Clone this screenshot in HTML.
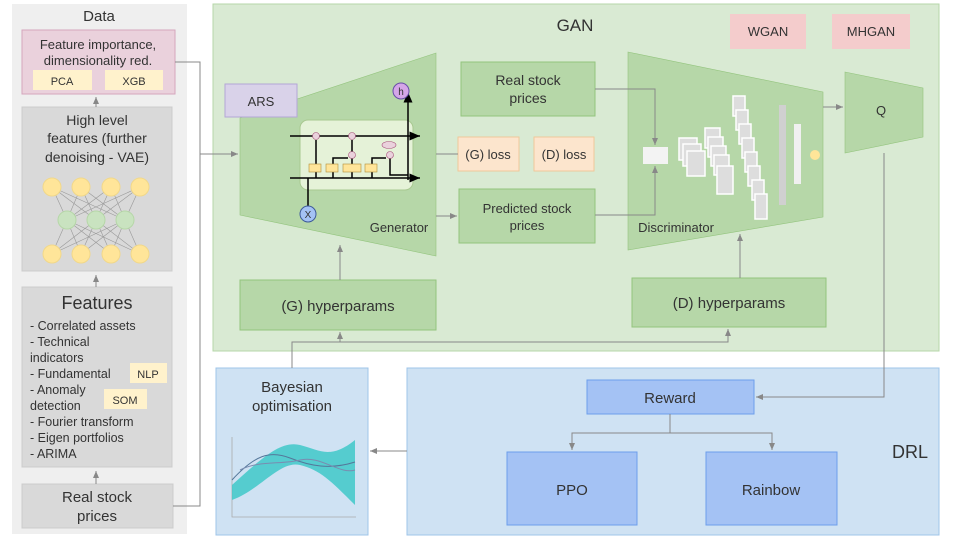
<!DOCTYPE html>
<html><head><meta charset="utf-8"><style>
body{margin:0;background:#fff}
svg{display:block}
text{font-family:"Liberation Sans",sans-serif;fill:#333}
</style></head><body>
<svg width="960" height="540" viewBox="0 0 960 540" xmlns="http://www.w3.org/2000/svg">
<defs><marker id="a" markerWidth="8" markerHeight="8" refX="7" refY="4" orient="auto"><path d="M0,1 L7,4 L0,7 z" fill="#888"/></marker>
<marker id="b" markerWidth="8" markerHeight="8" refX="7" refY="4" orient="auto"><path d="M0,1 L7,4 L0,7 z" fill="#000"/></marker></defs>
<!-- Data panel -->
<rect x="12" y="4" width="175" height="530" fill="#efefef"/>
<text x="99" y="21" font-size="15" text-anchor="middle" fill="#444">Data</text>
<rect x="22" y="30" width="153" height="64" fill="#ead1dc" stroke="#d5a6bd"/>
<text x="98" y="49" font-size="13" text-anchor="middle">Feature importance,</text>
<text x="98" y="65" font-size="13" text-anchor="middle">dimensionality red.</text>
<rect x="33" y="70" width="59" height="20" fill="#fff2cc"/><text x="62" y="85" font-size="11" text-anchor="middle">PCA</text>
<rect x="105" y="70" width="58" height="20" fill="#fff2cc"/><text x="134" y="85" font-size="11" text-anchor="middle">XGB</text>
<rect x="22" y="107" width="150" height="164" fill="#d9d9d9" stroke="#ccc"/>
<text x="97" y="125" font-size="14" text-anchor="middle">High level</text>
<text x="97" y="143" font-size="14" text-anchor="middle">features (further</text>
<text x="97" y="162" font-size="14" text-anchor="middle">denoising - VAE)</text>
<g stroke="#999" stroke-width="0.6">
<path d="M52,187L67,220M52,187L96,220M52,187L125,220M81,187L67,220M81,187L96,220M81,187L125,220M111,187L67,220M111,187L96,220M111,187L125,220M140,187L67,220M140,187L96,220M140,187L125,220"/>
<path d="M52,254L67,220M52,254L96,220M52,254L125,220M81,254L67,220M81,254L96,220M81,254L125,220M111,254L67,220M111,254L96,220M111,254L125,220M140,254L67,220M140,254L96,220M140,254L125,220"/>
</g>
<g fill="#ffe599" stroke="#f1d88a"><circle cx="52" cy="187" r="9"/><circle cx="81" cy="187" r="9"/><circle cx="111" cy="187" r="9"/><circle cx="140" cy="187" r="9"/><circle cx="52" cy="254" r="9"/><circle cx="81" cy="254" r="9"/><circle cx="111" cy="254" r="9"/><circle cx="140" cy="254" r="9"/></g>
<g fill="#c9e3c0" stroke="#b6d7a8"><circle cx="67" cy="220" r="9"/><circle cx="96" cy="220" r="9"/><circle cx="125" cy="220" r="9"/></g>
<rect x="22" y="287" width="150" height="180" fill="#d9d9d9" stroke="#ccc"/>
<text x="97" y="309" font-size="18" text-anchor="middle">Features</text>
<g font-size="12.5"><text x="30" y="330">- Correlated assets</text><text x="30" y="346">- Technical</text><text x="30" y="362">indicators</text><text x="30" y="378">- Fundamental</text><text x="30" y="394">- Anomaly</text><text x="30" y="410">detection</text><text x="30" y="426">- Fourier transform</text><text x="30" y="442">- Eigen portfolios</text><text x="30" y="458">- ARIMA</text></g>
<rect x="130" y="363" width="37" height="20" fill="#fff2cc"/><text x="148" y="378" font-size="11" text-anchor="middle">NLP</text>
<rect x="104" y="389" width="43" height="20" fill="#fff2cc"/><text x="125" y="404" font-size="11" text-anchor="middle">SOM</text>
<rect x="22" y="484" width="151" height="44" fill="#d9d9d9" stroke="#ccc"/>
<text x="97" y="502" font-size="15" text-anchor="middle">Real stock</text><text x="97" y="521" font-size="15" text-anchor="middle">prices</text>
<g stroke="#888" fill="none" marker-end="url(#a)"><path d="M96,484V471"/><path d="M96,287V275"/><path d="M96,107V97"/></g>
<!-- GAN -->
<rect x="213" y="4" width="726" height="347" fill="#d9ead3" stroke="#b6d7a8"/>
<text x="575" y="31" font-size="17" text-anchor="middle" fill="#444">GAN</text>
<rect x="730" y="14" width="76" height="35" fill="#f4cccc"/><text x="768" y="36" font-size="13" text-anchor="middle">WGAN</text>
<rect x="832" y="14" width="78" height="35" fill="#f4cccc"/><text x="871" y="36" font-size="13" text-anchor="middle">MHGAN</text>
<polygon points="240,118 436,53 436,256 240,215" fill="#b6d7a8" stroke="#93c47d" stroke-width="0.6"/>
<rect x="225" y="84" width="72" height="33" fill="#d9d2e9" stroke="#b4a7d6"/><text x="261" y="106" font-size="13" text-anchor="middle">ARS</text>
<rect x="300" y="120" width="113" height="70" rx="8" fill="#e5f2d8" stroke="#a8c890"/>
<g stroke="#000" stroke-width="1.5" fill="none">
<path d="M290,136H420" marker-end="url(#b)"/><path d="M290,178H420" marker-end="url(#b)"/>
<path d="M408,180V92" marker-end="url(#b)"/><path d="M390,152V175H408"/><path d="M308,178V215"/>
<path d="M316,178V140"/><path d="M333,178V158H348"/><path d="M352,178V140"/><path d="M372,178V158H386"/>
</g>
<g fill="#ffe599" stroke="#b08d3a" stroke-width="0.6" font-size="6"><rect x="309" y="164" width="12" height="8"/><rect x="326" y="164" width="12" height="8"/><rect x="343" y="164" width="18" height="8"/><rect x="365" y="164" width="12" height="8"/></g>
<g fill="#ead1dc" stroke="#a64d79" stroke-width="0.6"><circle cx="316" cy="136" r="3.5"/><circle cx="352" cy="136" r="3.5"/><circle cx="352" cy="155" r="3.5"/><circle cx="390" cy="155" r="3.5"/><ellipse cx="389" cy="145" rx="7" ry="3.5"/></g>
<circle cx="401" cy="91" r="8" fill="#d5a6e8" stroke="#674ea7"/><text x="401" y="95" font-size="10" text-anchor="middle">h</text>
<circle cx="308" cy="214" r="8" fill="#a4c2f4" stroke="#3d5a99"/><text x="308" y="218" font-size="10" text-anchor="middle">X</text>
<text x="399" y="232" font-size="13" text-anchor="middle" fill="#444">Generator</text>
<rect x="461" y="62" width="134" height="54" fill="#b6d7a8" stroke="#93c47d"/>
<text x="528" y="85" font-size="14" text-anchor="middle">Real stock</text><text x="528" y="103" font-size="14" text-anchor="middle">prices</text>
<rect x="458" y="137" width="61" height="34" fill="#fce5cd" stroke="#f0c89a"/><text x="488" y="159" font-size="13" text-anchor="middle">(G) loss</text>
<rect x="534" y="137" width="60" height="34" fill="#fce5cd" stroke="#f0c89a"/><text x="564" y="159" font-size="13" text-anchor="middle">(D) loss</text>
<rect x="459" y="189" width="136" height="54" fill="#b6d7a8" stroke="#93c47d"/>
<text x="527" y="213" font-size="13" text-anchor="middle">Predicted stock</text><text x="527" y="230" font-size="13" text-anchor="middle">prices</text>
<polygon points="628,52 823,92 823,217 628,250" fill="#b6d7a8" stroke="#93c47d" stroke-width="0.6"/>
<rect x="643" y="147" width="25" height="17" fill="#f3f3f3"/>
<g fill="#ddd" stroke="#fff" stroke-width="1.5">
<rect x="679" y="138" width="18" height="22"/><rect x="683" y="144" width="18" height="22"/><rect x="687" y="151" width="18" height="25"/>
<rect x="705" y="128" width="15" height="20"/><rect x="708" y="137" width="15" height="20"/><rect x="711" y="146" width="15" height="20"/><rect x="714" y="155" width="15" height="20"/><rect x="717" y="166" width="16" height="28"/>
<rect x="733" y="96" width="12" height="20"/><rect x="736" y="110" width="12" height="20"/><rect x="739" y="124" width="12" height="20"/><rect x="742" y="138" width="12" height="20"/><rect x="745" y="152" width="12" height="20"/><rect x="748" y="166" width="12" height="20"/><rect x="752" y="180" width="12" height="20"/><rect x="755" y="194" width="12" height="25"/>
</g>
<rect x="779" y="105" width="7" height="100" fill="#d0d0d0"/><rect x="794" y="124" width="7" height="60" fill="#f0f0f0"/>
<circle cx="815" cy="155" r="5" fill="#ffe599"/>
<text x="676" y="232" font-size="13" text-anchor="middle" fill="#444">Discriminator</text>
<polygon points="845,72 923,88 923,137 845,153" fill="#b6d7a8" stroke="#93c47d" stroke-width="0.6"/>
<text x="881" y="115" font-size="13" text-anchor="middle">Q</text>
<rect x="240" y="280" width="196" height="50" fill="#b6d7a8" stroke="#93c47d"/><text x="338" y="311" font-size="15" text-anchor="middle">(G) hyperparams</text>
<rect x="632" y="278" width="194" height="49" fill="#b6d7a8" stroke="#93c47d"/><text x="729" y="308" font-size="15" text-anchor="middle">(D) hyperparams</text>
<!-- Bayesian -->
<rect x="216" y="368" width="152" height="167" fill="#cfe2f3" stroke="#9fc5e8"/>
<text x="292" y="392" font-size="15" text-anchor="middle">Bayesian</text><text x="292" y="411" font-size="15" text-anchor="middle">optimisation</text>
<g stroke="#aaa" fill="none" stroke-width="0.8"><path d="M232,437V517H356"/></g>
<path d="M232,485 C260,460 280,440 300,445 C320,450 330,460 355,440 L355,505 C330,480 320,470 300,465 C280,460 260,490 232,500 Z" fill="#3fc8c8" opacity="0.85"/>
<path d="M232,480 C255,455 270,450 290,458 C310,466 330,470 355,462" stroke="#55779a" fill="none"/>
<path d="M240,470 C260,460 280,465 300,460 C320,455 340,475 355,470" stroke="#7a8cb0" fill="none"/>
<!-- DRL -->
<rect x="407" y="368" width="532" height="167" fill="#cfe2f3" stroke="#9fc5e8"/>
<text x="910" y="458" font-size="18" text-anchor="middle" fill="#444">DRL</text>
<rect x="587" y="380" width="167" height="34" fill="#a4c2f4" stroke="#6d9eeb"/><text x="670" y="403" font-size="15" text-anchor="middle">Reward</text>
<rect x="507" y="452" width="130" height="73" fill="#a4c2f4" stroke="#6d9eeb"/><text x="572" y="495" font-size="15" text-anchor="middle">PPO</text>
<rect x="706" y="452" width="131" height="73" fill="#a4c2f4" stroke="#6d9eeb"/><text x="771" y="495" font-size="15" text-anchor="middle">Rainbow</text>
<!-- connectors -->
<g stroke="#888" fill="none">
<path d="M175,62H200V154H238" marker-end="url(#a)"/><path d="M173,506H200V154"/>
<path d="M436,154H458"/><path d="M436,216H457" marker-end="url(#a)"/>
<path d="M595,89H655V145" marker-end="url(#a)"/><path d="M595,215H655V166" marker-end="url(#a)"/>
<path d="M823,107H843" marker-end="url(#a)"/>
<path d="M884,153V397H756" marker-end="url(#a)"/>
<path d="M670,414V433H572V450" marker-end="url(#a)"/><path d="M670,433H772V450" marker-end="url(#a)"/>
<path d="M407,451H370" marker-end="url(#a)"/>
<path d="M292,368V342H728V329" marker-end="url(#a)"/><path d="M340,342V332" marker-end="url(#a)"/>
<path d="M340,280V245" marker-end="url(#a)"/><path d="M740,278V234" marker-end="url(#a)"/>
</g>
</svg>
</body></html>
